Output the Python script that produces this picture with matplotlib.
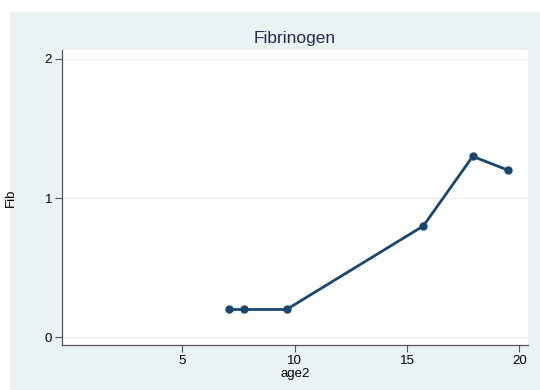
import numpy as np
import matplotlib
matplotlib.use("Agg")
import matplotlib.pyplot as plt
from matplotlib.patches import Rectangle

# values
age2 = [7.07, 7.74, 9.64, 15.73, 17.93, 19.51]
fib = [0.2, 0.2, 0.2, 0.8, 1.3, 1.2]
xticks = [5, 10, 15, 20]
yticks = [0, 1, 2]

plt.rcParams['font.family'] = ['Liberation Sans', 'DejaVu Sans']

bg = '#eaf2f3'
navy = '#1a476f'

fig = plt.figure(figsize=(5.4, 3.9), dpi=100)
fig.patch.set_facecolor('white')
# stata-style graph region (white margin top / left)
fig.patches.append(Rectangle((10 / 540, 0), 1, 1 - 12 / 390, transform=fig.transFigure,
                             facecolor=bg, edgecolor='none', zorder=-10))

ax = fig.add_axes([61.7 / 540, 1 - 345 / 390, (528 - 61.7) / 540, (345 - 50) / 390])
ax.set_facecolor('white')

ax.plot(age2, fib, color=navy, lw=2.0, marker='o', markersize=5,
        markerfacecolor=navy, markeredgecolor=navy, zorder=3)

ax.set_xlim(-0.37, 20.39)
ax.set_ylim(-0.055, 2.064)
ax.set_xticks(xticks)
ax.set_yticks(yticks)
ax.set_yticklabels([str(t) for t in yticks])
ax.grid(axis='y', color=bg, lw=1.0, zorder=0)
ax.set_axisbelow(True)

for s in ['top', 'right']:
    ax.spines[s].set_visible(False)
for s in ['left', 'bottom']:
    ax.spines[s].set_color('#555555')
    ax.spines[s].set_linewidth(0.9)

ax.tick_params(axis='both', direction='out', length=5, width=0.8, color='#555555',
               labelsize=9.5, labelcolor='black', pad=2)

ax.set_xlabel('age2', fontsize=9.5, labelpad=1)
ax.set_ylabel('Fib', fontsize=9.5, labelpad=20)
ax.set_title('Fibrinogen', fontsize=12.5, color='#1e2d4f', pad=5)

fig.savefig('out.png', dpi=100, facecolor=fig.get_facecolor())
